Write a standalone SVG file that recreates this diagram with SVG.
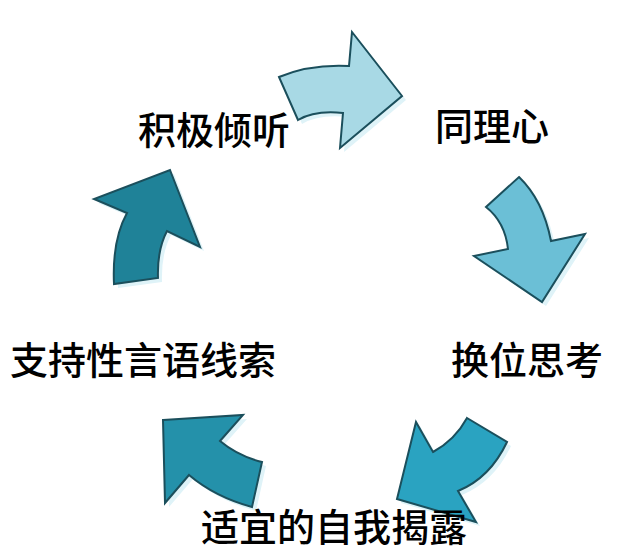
<svg xmlns="http://www.w3.org/2000/svg" width="618" height="549" viewBox="0 0 618 549">
<style>
.arrow{stroke:#1b4f5c;stroke-width:2;stroke-linejoin:miter}
.shadow{fill:#dff3f8;stroke:none}
.label{font-family:"Noto Sans CJK SC","Noto Sans",sans-serif;font-size:38px;fill:#000;font-weight:500}
</style>
<rect width="618" height="549" fill="#fff"/>
<g id="connectors">
  <g id="arrow1">
    <path class="shadow" transform="translate(4,4)" d="M279,77 Q310,64 349,66 L352,32 L402,96 L340,148 L343,113 Q315,110 298,120 Z"/>
    <path class="arrow" fill="#a8d9e5" d="M279,77 Q310,64 349,66 L352,32 L402,96 L340,148 L343,113 Q315,110 298,120 Z"/>
  </g>
  <g id="arrow2">
    <path class="shadow" transform="translate(4,4)" d="M519,177 Q543,200 551,241 L585,234 L542,302 L474,256 L508,249 Q505,222 486,207 Z"/>
    <path class="arrow" fill="#6bbfd6" d="M519,177 Q543,200 551,241 L585,234 L542,302 L474,256 L508,249 Q505,222 486,207 Z"/>
  </g>
  <g id="arrow3">
    <path class="shadow" transform="translate(4,4)" d="M467,418 L507,442 Q490,478 458,491 L476,522 L397,499 L416,422 L433,452 Q455,440 467,418 Z"/>
    <path class="arrow" fill="#2aa3c1" d="M467,418 L507,442 Q490,478 458,491 L476,522 L397,499 L416,422 L433,452 Q455,440 467,418 Z"/>
  </g>
  <g id="arrow4">
    <path class="shadow" transform="translate(4,4)" d="M163,420 L243,415 L220,441 Q238,456 262,462 L252,507 Q215,497 189,475 L165,503 Z"/>
    <path class="arrow" fill="#2491aa" d="M163,420 L243,415 L220,441 Q238,456 262,462 L252,507 Q215,497 189,475 L165,503 Z"/>
  </g>
  <g id="arrow5">
    <path class="shadow" transform="translate(4,4)" d="M170,170 L200,247 L167,231 Q157,250 158,278 L114,284 Q112,240 127,213 L94,199 Z"/>
    <path class="arrow" fill="#1f8298" d="M170,170 L200,247 L167,231 Q157,250 158,278 L114,284 Q112,240 127,213 L94,199 Z"/>
  </g>
</g>
<g id="node-listen"><text class="label" x="138" y="144">积极倾听</text></g>
<g id="node-empathy"><text class="label" x="435" y="140">同理心</text></g>
<g id="node-perspective"><text class="label" x="451" y="374">换位思考</text></g>
<g id="node-disclosure"><text class="label" x="201" y="541">适宜的自我揭露</text></g>
<g id="node-support"><text class="label" x="10" y="374">支持性言语线索</text></g>
</svg>
